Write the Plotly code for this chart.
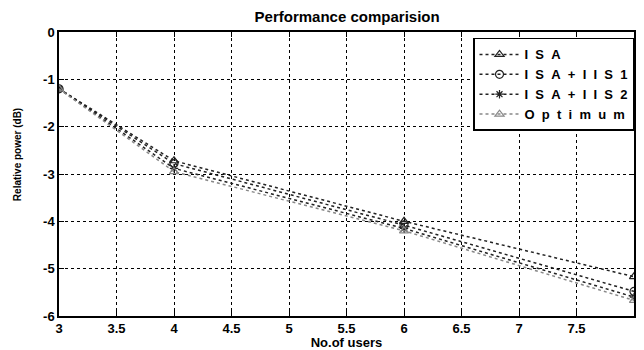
import plotly.graph_objects as go

users = [3, 4, 6, 8]
isa = [-1.2, -2.72, -4.0, -5.17]
isa_iis1 = [-1.2, -2.78, -4.08, -5.48]
isa_iis2 = [-1.2, -2.88, -4.15, -5.6]
optimum = [-1.2, -2.95, -4.2, -5.67]
names = ["ISA", "ISA+IIS1", "ISA+IIS2", "Optimum"]
x_ticks = [3, 3.5, 4, 4.5, 5, 5.5, 6, 6.5, 7, 7.5, 8]
x_labels = ["3", "3.5", "4", "4.5", "5", "5.5", "6", "6.5", "7", "7.5", "8"]
y_ticks = [0, -1, -2, -3, -4, -5, -6]
y_labels = ["0", "-1", "-2", "-3", "-4", "-5", "-6"]

FONT = "Liberation Sans, Arial"
GAP = "\u00a0\u00a0"


def spaced(s):
    return GAP.join(list(s))


fig = go.Figure()
styles = [
    (isa, "triangle-up-open", "#222222", 8),
    (isa_iis1, "circle-open", "#222222", 8),
    (isa_iis2, "asterisk-open", "#222222", 7),
    (optimum, "triangle-up-open", "#888888", 8),
]
for (vals, sym, col, sz), nm in zip(styles, names):
    fig.add_trace(go.Scatter(
        x=users, y=vals, name=spaced(nm), mode="lines+markers",
        line=dict(color=col, width=1.5, dash="dot"),
        marker=dict(symbol=sym, size=sz, color=col, line=dict(color=col, width=1.2)),
    ))

axis_common = dict(
    showline=True, linecolor="black", linewidth=1.5, mirror="ticks",
    ticks="inside", ticklen=5, tickcolor="black",
    showgrid=True, gridcolor="black", griddash="dot", gridwidth=1,
    zeroline=False,
    tickfont=dict(family=FONT, size=13, color="black", weight="bold"),
)
fig.update_xaxes(range=[3, 8], tickvals=x_ticks, ticktext=x_labels,
                 title=dict(text="No.of users", standoff=0,
                            font=dict(family=FONT, size=13, color="black", weight="bold")),
                 **axis_common)
fig.update_yaxes(range=[-6, 0], tickvals=y_ticks, ticktext=y_labels, **axis_common)

fig.add_annotation(text="Relative power (dB)", xref="paper", yref="paper",
                   x=-0.071, y=0.567, xanchor="center", yanchor="middle",
                   textangle=-90, showarrow=False,
                   font=dict(family=FONT, size=10, color="black", weight="bold"))

fig.update_layout(
    width=628, height=342,
    margin=dict(l=51, r=2, t=24, b=34, autoexpand=False),
    paper_bgcolor="white", plot_bgcolor="white",
    title=dict(text="Performance comparision", x=0.54, xanchor="center", y=0.99, yanchor="top",
               font=dict(family=FONT, size=15, color="black", weight="bold")),
    showlegend=True,
    legend=dict(x=1.0, y=0.979, xanchor="right", yanchor="top",
                bgcolor="white", bordercolor="black", borderwidth=1.5,
                font=dict(family=FONT, size=13, color="black", weight="bold"),
                tracegroupgap=0, itemwidth=40),
)
fig.write_html("out.html")
